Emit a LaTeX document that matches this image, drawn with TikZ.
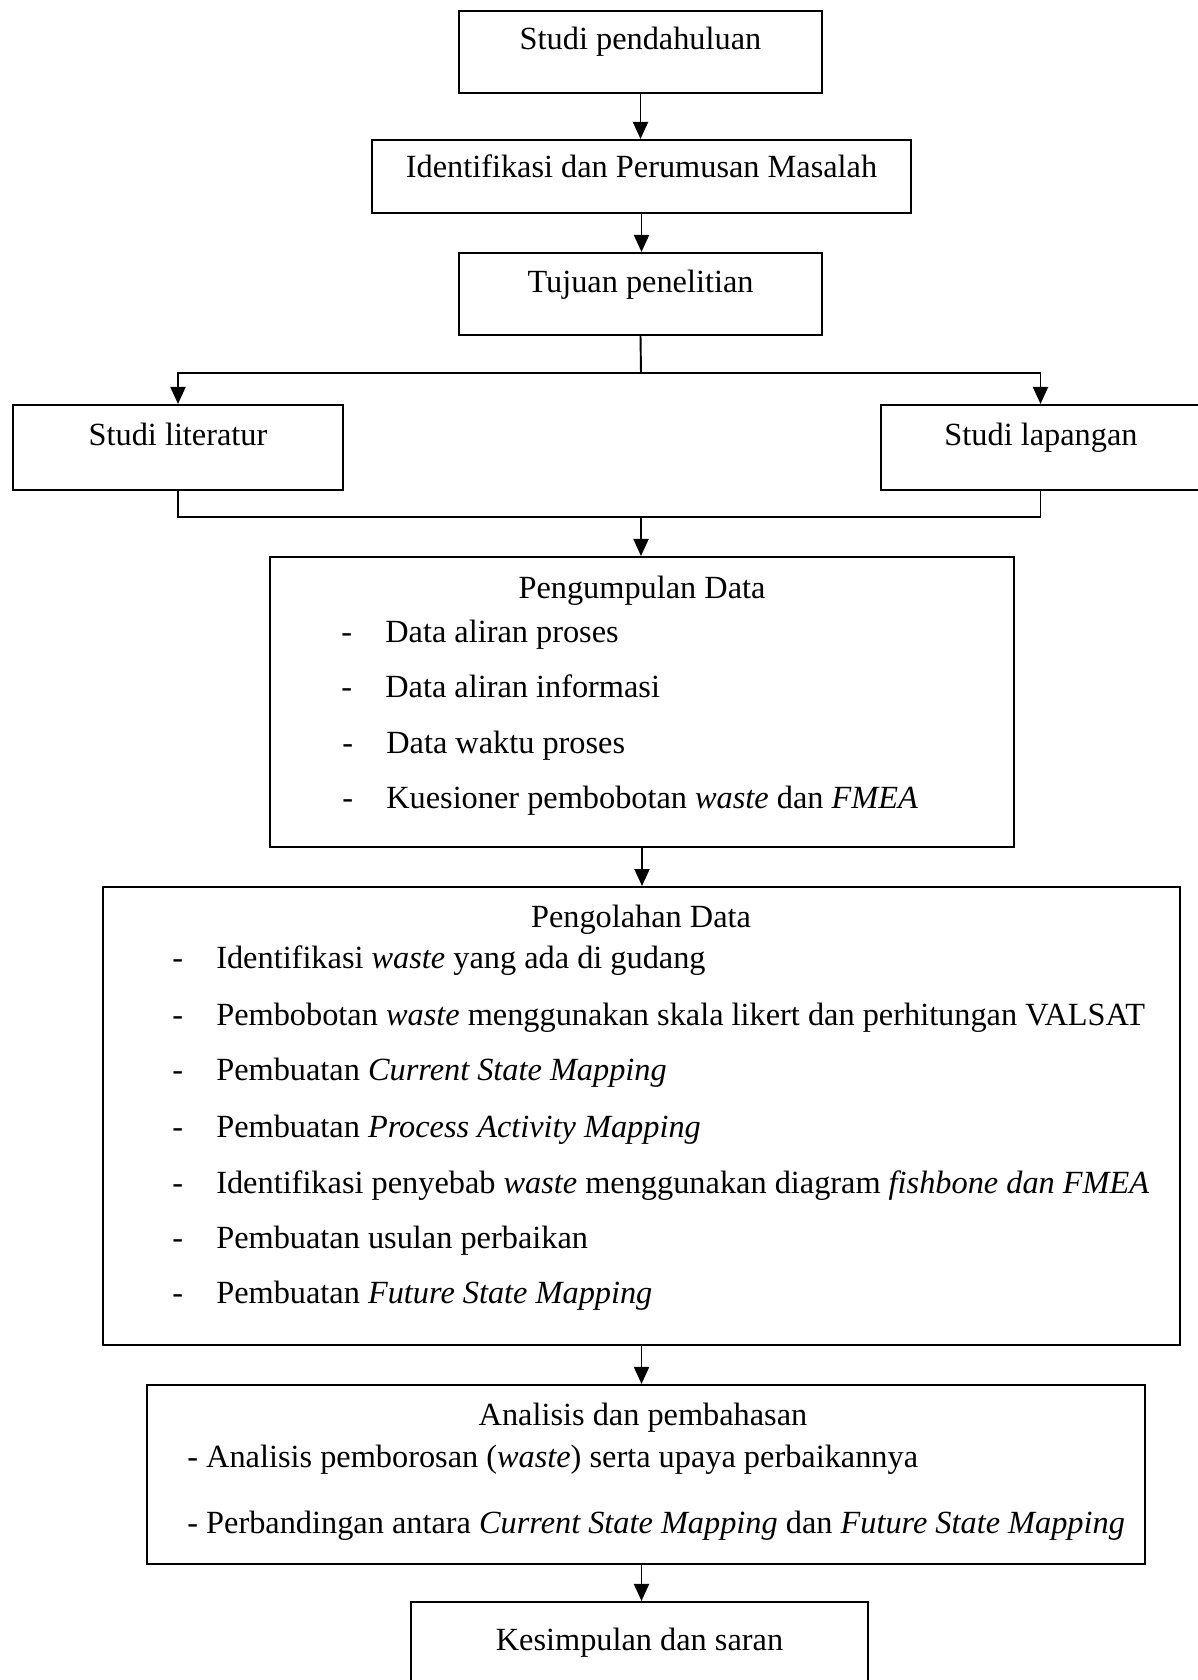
\documentclass[tikz,border=0pt]{standalone}
\usepackage{fontspec}
\setmainfont{Liberation Serif}
\usetikzlibrary{arrows.meta}

\begin{document}
\begin{tikzpicture}[x=0.02cm, y=-0.02cm,
    font=\fontsize{18.4pt}{21pt}\selectfont,
    kotak/.style={draw, line width=1.2pt, inner sep=0pt},
    judul/.style={anchor=base, inner sep=0pt},
    butir/.style={anchor=base west, inner sep=0pt},
    garis/.style={line width=1.1pt},
    panah/.style={line width=1.1pt, -{Triangle[length=0.34cm, width=0.3cm]}}]
    \useasboundingbox (0,0) rectangle (1197,1680);
    % kotak-kotak alur
    \node[kotak, minimum width=7.26cm, minimum height=1.64cm] (pend) at (640.5,52) {};
    \node[kotak, minimum width=10.78cm, minimum height=1.46cm] (ident) at (641.5,176.5) {};
    \node[kotak, minimum width=7.26cm, minimum height=1.64cm] (tujuan) at (640.5,294) {};
    \node[kotak, minimum width=6.6cm, minimum height=1.7cm] (lit) at (178,447.5) {};
    \node[kotak, minimum width=6.38cm, minimum height=1.7cm] (lap) at (1040.5,447.5) {};
    \node[kotak, minimum width=14.88cm, minimum height=5.8cm] (kumpul) at (642,702) {};
    \node[kotak, minimum width=21.54cm, minimum height=9.16cm] (olah) at (641.5,1116) {};
    \node[kotak, minimum width=19.96cm, minimum height=3.58cm] (analisis) at (646,1474.5) {};
    \node[kotak, minimum width=9.14cm, minimum height=1.96cm] (simpul) at (639.5,1651) {};
    \coordinate (cabang) at (641,373);
    \coordinate (gabung) at (641,517);

    % tulisan
    \node[judul] (t-pend) at (640.5,50) {Studi pendahuluan};
    \node[judul] (t-ident) at (641.5,177) {Identifikasi dan Perumusan Masalah};
    \node[judul] (t-tujuan) at (640.5,292) {Tujuan penelitian};
    \node[judul] (t-lit) at (178,445) {Studi literatur};
    \node[judul] (t-lap) at (1041,445) {Studi lapangan};

    \node[judul] (t-kumpul) at (642,598) {Pengumpulan Data};
    \node[butir] (k1) at (341,642) {\makebox[0.88cm][l]{-}Data aliran proses};
    \node[butir] (k2) at (341,697) {\makebox[0.88cm][l]{-}Data aliran informasi};
    \node[butir] (k3) at (342,753) {\makebox[0.88cm][l]{-}Data waktu proses};
    \node[butir] (k4) at (342,808) {\makebox[0.88cm][l]{-}Kuesioner pembobotan \textit{waste} dan \textit{FMEA}};

    \node[judul] (t-olah) at (641,927) {Pengolahan Data};
    \node[butir] (o1) at (172,968) {\makebox[0.88cm][l]{-}Identifikasi \textit{waste} yang ada di gudang};
    \node[butir] (o2) at (172,1025) {\makebox[0.88cm][l]{-}Pembobotan \textit{waste} menggunakan skala likert dan perhitungan VALSAT};
    \node[butir] (o3) at (172,1080) {\makebox[0.88cm][l]{-}Pembuatan \textit{Current State Mapping}};
    \node[butir] (o4) at (172,1137) {\makebox[0.88cm][l]{-}Pembuatan \textit{Process Activity Mapping}};
    \node[butir] (o5) at (172,1193) {\makebox[0.88cm][l]{-}Identifikasi penyebab \textit{waste} menggunakan diagram \textit{fishbone dan FMEA}};
    \node[butir] (o6) at (172,1248) {\makebox[0.88cm][l]{-}Pembuatan usulan perbaikan};
    \node[butir] (o7) at (172,1303) {\makebox[0.88cm][l]{-}Pembuatan \textit{Future State Mapping}};

    \node[judul] (t-analisis) at (643,1425) {Analisis dan pembahasan};
    \node[butir] (a1) at (187,1467) {- Analisis pemborosan (\textit{waste}) serta upaya perbaikannya};
    \node[butir] (a2) at (187,1533) {- Perbandingan antara \textit{Current State Mapping} dan \textit{Future State Mapping}};

    \node[judul] (t-simpul) at (639.5,1650) {Kesimpulan dan saran};

    % panah
    \draw[panah] (pend.south) -- (pend.south |- ident.north);
    \draw[panah] (ident.south) -- (ident.south |- tujuan.north);
    \draw[garis] (tujuan.south) -- (cabang);
    \draw[panah] (cabang) -| (lit.north);
    \draw[panah] (cabang) -| (lap.north);
    \draw[garis] (lit.south) |- (gabung) -| (lap.south);
    \draw[panah] (gabung) -- (gabung |- kumpul.north);
    \draw[panah] (kumpul.south) -- (kumpul.south |- olah.north);
    \draw[panah] (olah.south) -- (olah.south |- analisis.north);
    \draw[panah] (analisis.south -| olah.south) -- (olah.south |- simpul.north);
\end{tikzpicture}
\end{document}
